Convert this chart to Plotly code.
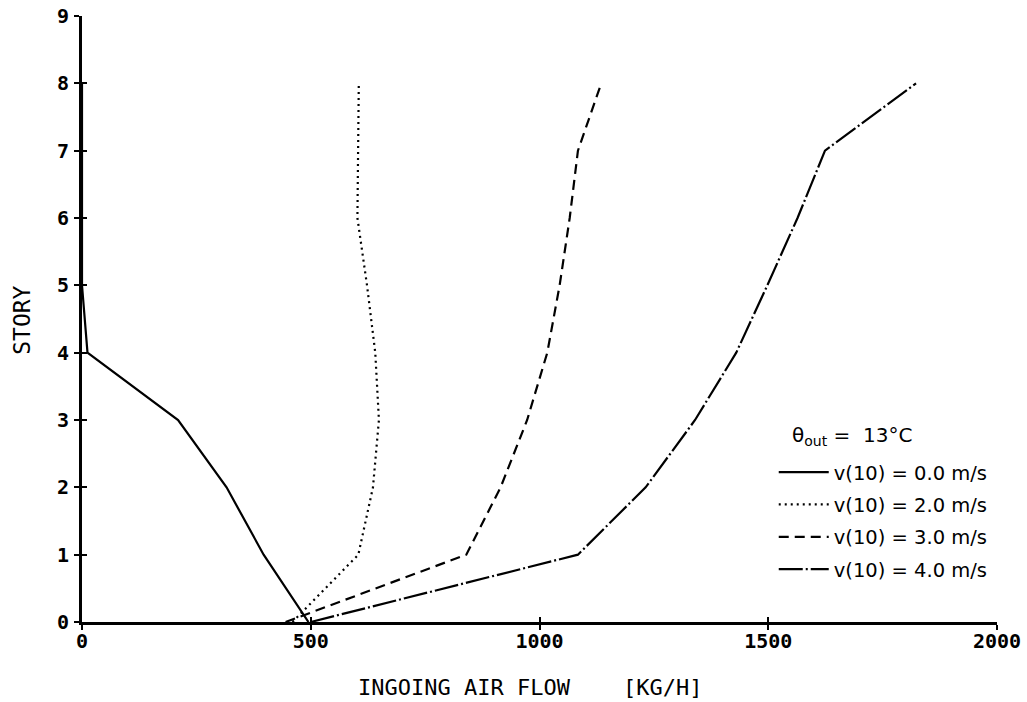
import plotly.graph_objects as go

# Data
stories = [0, 1, 2, 3, 4, 5, 6, 7, 8]
flow_v0 = [495, 397, 316, 210, 12, 0, 0, 0, 0]
flow_v2 = [460, 604, 636, 649, 641, 623, 602, 603, 605]
flow_v3 = [445, 840, 915, 973, 1017, 1044, 1066, 1084, 1135]
flow_v4 = [500, 1084, 1232, 1340, 1430, 1498, 1564, 1624, 1823]

series_names = ["v(10) = 0.0 m/s", "v(10) = 2.0 m/s", "v(10) = 3.0 m/s", "v(10) = 4.0 m/s"]
series_data = [flow_v0, flow_v2, flow_v3, flow_v4]
series_dash = ["solid", "2px,4px", "10px,6px", "24px,3px,2px,3px"]

x_ticks = [0, 500, 1000, 1500, 2000]
y_ticks = [0, 1, 2, 3, 4, 5, 6, 7, 8, 9]

fig = go.Figure()
for i, (name, xs, dash) in enumerate(zip(series_names, series_data, series_dash)):
    fig.add_trace(go.Scatter(
        x=xs, y=stories, mode="lines", name=name,
        line=dict(color="black", width=2.2, dash=dash),
        cliponaxis=False, legendgroup=f"g{i}",
    ))

tick_font = dict(family="DejaVu Sans Mono", size=20, color="black", weight="bold")

fig.update_layout(
    width=1027, height=702,
    margin=dict(l=82, r=30, t=16, b=80),
    paper_bgcolor="white", plot_bgcolor="white",
    showlegend=True,
    legend=dict(
        x=0.756, y=0.279, xanchor="left", yanchor="top",
        bgcolor="rgba(0,0,0,0)",
        font=dict(family="DejaVu Sans", size=19.5, color="black"),
        tracegroupgap=4,
        itemwidth=50,
    ),
    xaxis=dict(
        range=[0, 2000], tickvals=x_ticks, ticktext=[str(v) for v in x_ticks],
        showline=True, linecolor="black", linewidth=3,
        ticks="outside", ticklen=5, tickwidth=2, tickcolor="black",
        showgrid=False, zeroline=False, tickfont=tick_font, automargin=False,
        ticklabelstandoff=-6,
    ),
    yaxis=dict(
        range=[0, 9], tickvals=y_ticks, ticktext=[str(v) for v in y_ticks],
        showline=True, linecolor="black", linewidth=3,
        ticks="outside", ticklen=5, tickwidth=2, tickcolor="black",
        showgrid=False, zeroline=False, tickfont=tick_font,
        ticklabelstandoff=1, automargin=False,
    ),
    xaxis2=dict(
        overlaying="x", matches="x", range=[0, 2000], tickvals=x_ticks[1:-1],
        ticks="inside", ticklen=5, tickwidth=2, tickcolor="black",
        showticklabels=False, showgrid=False, zeroline=False, showline=False,
        automargin=False,
    ),
    yaxis2=dict(
        overlaying="y", matches="y", range=[0, 9], tickvals=y_ticks[1:-1],
        ticks="inside", ticklen=5, tickwidth=2, tickcolor="black",
        showticklabels=False, showgrid=False, zeroline=False, showline=False,
        automargin=False,
    ),
)

# invisible trace to activate the secondary (inside-tick) axes
fig.add_trace(go.Scatter(x=[None], y=[None], xaxis="x2", yaxis="y2",
                         showlegend=False, hoverinfo="skip"))

fig.add_annotation(text="θ<sub>out</sub> =  13°C", xref="paper", yref="paper",
                   x=0.774, y=0.307, xanchor="left", yanchor="middle", showarrow=False,
                   font=dict(family="DejaVu Sans", size=20, color="black"))
fig.add_annotation(text="STORY", xref="paper", yref="paper", x=0, y=0.497,
                   xshift=-60, xanchor="center", yanchor="middle", textangle=-90, showarrow=False,
                   font=dict(family="DejaVu Sans Mono", size=23, color="black"))
fig.add_annotation(text="INGOING AIR FLOW\u00a0\u00a0\u00a0\u00a0[KG/H]", xref="paper", yref="paper",
                   x=0.49, y=0, yshift=-65, xanchor="center", yanchor="middle", showarrow=False,
                   font=dict(family="DejaVu Sans Mono", size=22, color="black"))

fig.write_html("out.html",
               config={"displayModeBar": False},
               post_script="document.body.style.margin='0px';document.body.style.padding='0px';")
